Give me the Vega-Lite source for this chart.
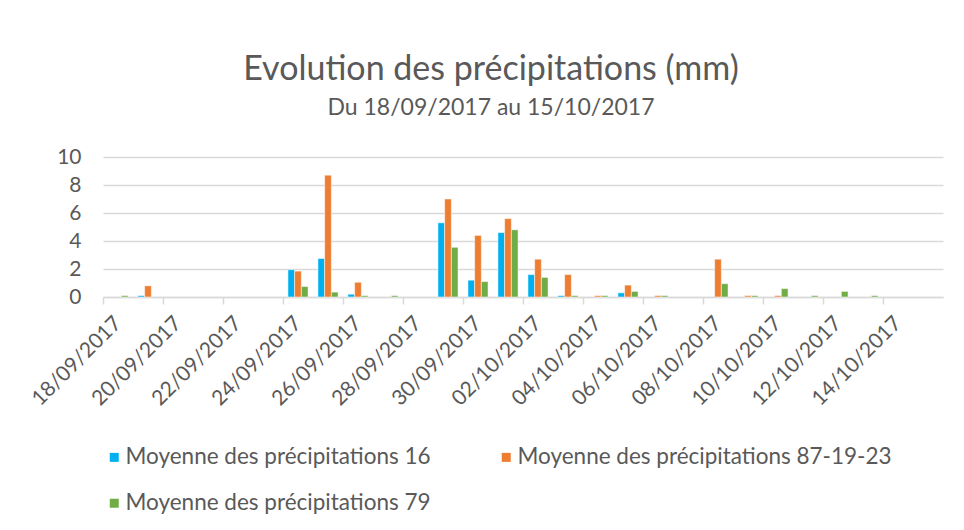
{
  "$schema": "https://vega.github.io/schema/vega-lite/v6.json",
  "width": 840,
  "height": 140,
  "autosize": {"type": "none"},
  "padding": {"left": 103, "top": 157, "right": 21, "bottom": 233},
  "background": "white",
  "config": {"font": "Lato", "view": {"stroke": null}},
  "title": {
    "text": "Evolution des précipitations (mm)",
    "subtitle": "Du 18/09/2017 au 15/10/2017",
    "fontSize": 34,
    "subtitleFontSize": 23,
    "color": "#595959",
    "subtitleColor": "#595959",
    "fontWeight": "normal",
    "subtitleFontWeight": "normal",
    "font": "Lato",
    "subtitleFont": "Lato",
    "anchor": "middle",
    "dx": -32,
    "offset": 26,
    "subtitlePadding": 10
  },
  "data": {
    "values": [
      {"date": "18/09/2017", "series": "Moyenne des précipitations 79", "value": 0.1},
      {"date": "19/09/2017", "series": "Moyenne des précipitations 16", "value": 0.1},
      {"date": "19/09/2017", "series": "Moyenne des précipitations 87-19-23", "value": 0.8},
      {"date": "24/09/2017", "series": "Moyenne des précipitations 16", "value": 1.95},
      {"date": "24/09/2017", "series": "Moyenne des précipitations 87-19-23", "value": 1.85},
      {"date": "24/09/2017", "series": "Moyenne des précipitations 79", "value": 0.75},
      {"date": "25/09/2017", "series": "Moyenne des précipitations 16", "value": 2.75},
      {"date": "25/09/2017", "series": "Moyenne des précipitations 87-19-23", "value": 8.7},
      {"date": "25/09/2017", "series": "Moyenne des précipitations 79", "value": 0.35},
      {"date": "26/09/2017", "series": "Moyenne des précipitations 16", "value": 0.2},
      {"date": "26/09/2017", "series": "Moyenne des précipitations 87-19-23", "value": 1.05},
      {"date": "26/09/2017", "series": "Moyenne des précipitations 79", "value": 0.1},
      {"date": "27/09/2017", "series": "Moyenne des précipitations 79", "value": 0.1},
      {"date": "29/09/2017", "series": "Moyenne des précipitations 16", "value": 5.3},
      {"date": "29/09/2017", "series": "Moyenne des précipitations 87-19-23", "value": 7.0},
      {"date": "29/09/2017", "series": "Moyenne des précipitations 79", "value": 3.55},
      {"date": "30/09/2017", "series": "Moyenne des précipitations 16", "value": 1.2},
      {"date": "30/09/2017", "series": "Moyenne des précipitations 87-19-23", "value": 4.4},
      {"date": "30/09/2017", "series": "Moyenne des précipitations 79", "value": 1.1},
      {"date": "01/10/2017", "series": "Moyenne des précipitations 16", "value": 4.6},
      {"date": "01/10/2017", "series": "Moyenne des précipitations 87-19-23", "value": 5.6},
      {"date": "01/10/2017", "series": "Moyenne des précipitations 79", "value": 4.8},
      {"date": "02/10/2017", "series": "Moyenne des précipitations 16", "value": 1.6},
      {"date": "02/10/2017", "series": "Moyenne des précipitations 87-19-23", "value": 2.7},
      {"date": "02/10/2017", "series": "Moyenne des précipitations 79", "value": 1.4},
      {"date": "03/10/2017", "series": "Moyenne des précipitations 16", "value": 0.1},
      {"date": "03/10/2017", "series": "Moyenne des précipitations 87-19-23", "value": 1.6},
      {"date": "03/10/2017", "series": "Moyenne des précipitations 79", "value": 0.1},
      {"date": "04/10/2017", "series": "Moyenne des précipitations 87-19-23", "value": 0.1},
      {"date": "04/10/2017", "series": "Moyenne des précipitations 79", "value": 0.1},
      {"date": "05/10/2017", "series": "Moyenne des précipitations 16", "value": 0.3},
      {"date": "05/10/2017", "series": "Moyenne des précipitations 87-19-23", "value": 0.85},
      {"date": "05/10/2017", "series": "Moyenne des précipitations 79", "value": 0.4},
      {"date": "06/10/2017", "series": "Moyenne des précipitations 87-19-23", "value": 0.1},
      {"date": "06/10/2017", "series": "Moyenne des précipitations 79", "value": 0.1},
      {"date": "08/10/2017", "series": "Moyenne des précipitations 87-19-23", "value": 2.7},
      {"date": "08/10/2017", "series": "Moyenne des précipitations 79", "value": 0.95},
      {"date": "09/10/2017", "series": "Moyenne des précipitations 87-19-23", "value": 0.1},
      {"date": "09/10/2017", "series": "Moyenne des précipitations 79", "value": 0.1},
      {"date": "10/10/2017", "series": "Moyenne des précipitations 87-19-23", "value": 0.1},
      {"date": "10/10/2017", "series": "Moyenne des précipitations 79", "value": 0.6},
      {"date": "11/10/2017", "series": "Moyenne des précipitations 79", "value": 0.1},
      {"date": "12/10/2017", "series": "Moyenne des précipitations 79", "value": 0.4},
      {"date": "13/10/2017", "series": "Moyenne des précipitations 79", "value": 0.1}
    ]
  },
  "mark": {"type": "bar", "stroke": "white", "strokeWidth": 0.5},
  "encoding": {
    "x": {
      "field": "date",
      "type": "ordinal",
      "sort": null,
      "scale": {
        "domain": ["18/09/2017","19/09/2017","20/09/2017","21/09/2017","22/09/2017","23/09/2017","24/09/2017","25/09/2017","26/09/2017","27/09/2017","28/09/2017","29/09/2017","30/09/2017","01/10/2017","02/10/2017","03/10/2017","04/10/2017","05/10/2017","06/10/2017","07/10/2017","08/10/2017","09/10/2017","10/10/2017","11/10/2017","12/10/2017","13/10/2017","14/10/2017","15/10/2017"],
        "paddingInner": 0.33,
        "paddingOuter": 0.165
      },
      "axis": {
        "title": null,
        "values": ["18/09/2017","20/09/2017","22/09/2017","24/09/2017","26/09/2017","28/09/2017","30/09/2017","02/10/2017","04/10/2017","06/10/2017","08/10/2017","10/10/2017","12/10/2017","14/10/2017"],
        "labelAngle": -45,
        "labelFontSize": 21,
        "labelColor": "#595959",
        "tickColor": "#d9d9d9",
        "tickSize": 7,
        "tickWidth": 1.5,
        "tickOffset": -15,
        "labelOffset": 7,
        "domainColor": "#d9d9d9",
        "domainWidth": 1.5,
        "labelPadding": 8,
        "grid": false
      }
    },
    "xOffset": {
      "field": "series",
      "type": "nominal",
      "scale": {"domain": ["Moyenne des précipitations 16", "Moyenne des précipitations 87-19-23", "Moyenne des précipitations 79"]}
    },
    "y": {
      "field": "value",
      "type": "quantitative",
      "scale": {"domain": [0, 10]},
      "axis": {
        "title": null,
        "values": [0, 2, 4, 6, 8, 10],
        "domain": false,
        "ticks": false,
        "grid": true,
        "gridColor": "#d9d9d9",
        "gridWidth": 1.5,
        "labelFontSize": 21,
        "labelColor": "#595959",
        "labelPadding": 22
      }
    },
    "color": {
      "field": "series",
      "type": "nominal",
      "scale": {
        "domain": ["Moyenne des précipitations 16", "Moyenne des précipitations 87-19-23", "Moyenne des précipitations 79"],
        "range": ["#00B0F0", "#ED7D31", "#70AD47"]
      },
      "legend": {
        "title": null,
        "orient": "none",
        "direction": "horizontal",
        "legendX": 0,
        "legendY": 289,
        "columns": 2,
        "columnPadding": 64,
        "rowPadding": 23,
        "symbolType": "square",
        "symbolSize": 81,
        "symbolStrokeWidth": 0,
        "labelFontSize": 22.5,
        "labelColor": "#595959",
        "labelLimit": 600,
        "labelOffset": 0
      }
    }
  }
}
